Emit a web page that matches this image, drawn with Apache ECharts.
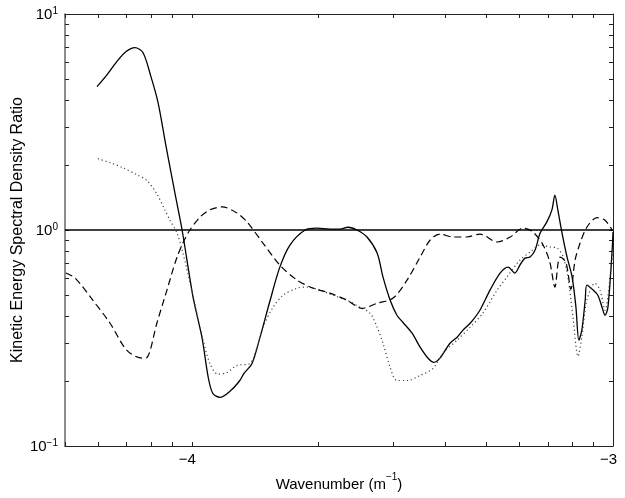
<!DOCTYPE html>
<html>
<head>
<meta charset="utf-8">
<script src="https://cdn.jsdelivr.net/npm/echarts@6/dist/echarts.min.js"></script>
<style>html,body{margin:0;padding:0;background:#fff;}#c{width:625px;height:498px;}</style>
</head>
<body>
<div id="c"></div>
<script>
// x values are log10(wavenumber); y values are the spectral density ratio
const xMin = -4.30103, xMax = -3;
const xLabelValues = [-4, -3];
const yLabelExponents = [-1, 0, 1];
const unityLine = [[-4.30103, 1], [-3, 1]];

const solidCurve = [
  [-4.225,4.61],[-4.201,5.24],[-4.178,6.02],[-4.156,6.70],[-4.135,6.99],[-4.116,6.63],[-4.097,5.13],
  [-4.080,3.88],[-4.061,2.43],[-4.040,1.48],[-4.023,1.00],[-3.997,0.489],[-3.976,0.319],[-3.961,0.208],
  [-3.950,0.175],[-3.933,0.168],[-3.907,0.181],[-3.886,0.201],[-3.876,0.217],[-3.857,0.241],[-3.838,0.319],
  [-3.814,0.473],[-3.791,0.673],[-3.767,0.852],[-3.731,1.00],[-3.703,1.02],[-3.672,1.01],[-3.648,1.01],
  [-3.629,1.03],[-3.608,1.00],[-3.584,0.928],[-3.560,0.782],[-3.546,0.605],[-3.529,0.473],[-3.513,0.403],
  [-3.499,0.374],[-3.477,0.333],[-3.458,0.287],[-3.439,0.255],[-3.425,0.244],[-3.411,0.255],[-3.387,0.299],
  [-3.370,0.319],[-3.356,0.344],[-3.339,0.370],[-3.316,0.425],[-3.292,0.527],[-3.268,0.632],[-3.249,0.673],
  [-3.233,0.632],[-3.221,0.688],[-3.209,0.741],[-3.197,0.749],[-3.185,0.808],[-3.173,0.968],[-3.157,1.09],
  [-3.145,1.24],[-3.138,1.45],[-3.131,1.24],[-3.121,0.968],[-3.109,0.749],[-3.097,0.605],[-3.088,0.439],
  [-3.081,0.309],[-3.074,0.344],[-3.066,0.473],[-3.062,0.556],[-3.047,0.527],[-3.036,0.499],[-3.026,0.439],
  [-3.019,0.403],[-3.012,0.439],[-3.002,0.808],[-3.000,0.979]
];

const dottedCurve = [
  [-4.223,2.14],[-4.194,2.05],[-4.163,1.94],[-4.130,1.80],[-4.106,1.69],[-4.083,1.47],[-4.064,1.24],
  [-4.052,1.11],[-4.035,0.968],[-4.021,0.782],[-4.004,0.567],[-3.988,0.412],[-3.973,0.309],[-3.957,0.241],
  [-3.938,0.215],[-3.916,0.219],[-3.893,0.236],[-3.862,0.241],[-3.845,0.287],[-3.831,0.355],[-3.807,0.439],
  [-3.783,0.499],[-3.750,0.538],[-3.726,0.544],[-3.696,0.527],[-3.665,0.499],[-3.631,0.473],[-3.601,0.439],
  [-3.577,0.412],[-3.560,0.355],[-3.546,0.299],[-3.529,0.231],[-3.513,0.201],[-3.489,0.201],[-3.458,0.212],
  [-3.427,0.229],[-3.404,0.269],[-3.370,0.309],[-3.339,0.355],[-3.309,0.412],[-3.275,0.527],[-3.252,0.605],
  [-3.221,0.726],[-3.197,0.790],[-3.173,0.852],[-3.150,0.834],[-3.133,0.825],[-3.119,0.758],[-3.107,0.605],
  [-3.095,0.395],[-3.083,0.260],[-3.074,0.319],[-3.062,0.473],[-3.043,0.567],[-3.031,0.527],[-3.019,0.425],
  [-3.007,0.605],[-3.000,0.808]
];

const dashedCurve = [
  [-4.299,0.632],[-4.277,0.599],[-4.235,0.473],[-4.194,0.370],[-4.154,0.277],[-4.118,0.255],[-4.106,0.257],
  [-4.083,0.370],[-4.059,0.527],[-4.035,0.749],[-4.009,0.968],[-3.980,1.15],[-3.957,1.24],[-3.928,1.28],
  [-3.893,1.20],[-3.869,1.09],[-3.831,0.870],[-3.791,0.688],[-3.750,0.586],[-3.712,0.538],[-3.672,0.510],
  [-3.631,0.473],[-3.596,0.434],[-3.560,0.458],[-3.522,0.484],[-3.489,0.586],[-3.458,0.749],[-3.434,0.899],
  [-3.411,0.958],[-3.380,0.928],[-3.347,0.928],[-3.316,0.958],[-3.275,0.880],[-3.244,0.928],[-3.214,1.02],
  [-3.190,0.979],[-3.166,0.852],[-3.150,0.710],[-3.138,0.544],[-3.126,0.749],[-3.112,0.710],[-3.100,0.532],
  [-3.090,0.726],[-3.078,0.870],[-3.062,1.03],[-3.038,1.14],[-3.019,1.11],[-3.002,1.00]
];

// tick positions (log10 of 1..9 multiples)
const xTicks = [];
[1e-5, 1e-4].forEach(d => { for (let k = 1; k <= 9; k++) { const v = Math.log10(k * d); if (v >= xMin - 1e-9) xTicks.push(v); } });
xTicks.push(-3);
const yTicks = [];
[0.1, 1].forEach(d => { for (let k = 1; k <= 9; k++) yTicks.push(Math.log10(k * d)); });
yTicks.push(1);

const FONT = 'Liberation Sans, Arial, Helvetica, sans-serif';
const frame = { show: true, onZero: false, lineStyle: { color: '#222', width: 1 } };
const tick = (vals) => ({ show: true, inside: true, length: 4, customValues: vals, lineStyle: { color: '#222', width: 1 } });

const chart = echarts.init(document.getElementById('c'), null, { renderer: 'canvas' });
chart.setOption({
  animation: false,
  backgroundColor: '#fff',
  grid: { left: 65, right: 12, top: 14, bottom: 52, containLabel: false, outerBoundsMode: 'none' },
  xAxis: [
    {
      type: 'value', min: xMin, max: xMax, position: 'bottom',
      axisLine: frame, axisTick: tick(xTicks), splitLine: { show: false },
      axisLabel: {
        customValues: xLabelValues, margin: 6, fontSize: 15, color: '#000', fontFamily: FONT,
        padding: [0, 9, 0, 0],
        formatter: v => (v < 0 ? '\u2212' + Math.abs(v) : String(v))
      },
      name: '{a|Wavenumber (m}{s|\u22121}{a|)}', nameLocation: 'middle', nameGap: 24,
      nameTextStyle: {
        rich: {
          a: { fontSize: 15, fontFamily: FONT, color: '#000', lineHeight: 20, verticalAlign: 'bottom' },
          s: { fontSize: 10, fontFamily: FONT, color: '#000', lineHeight: 12, verticalAlign: 'top' }
        }
      }
    },
    {
      type: 'value', min: xMin, max: xMax, position: 'top',
      axisLine: frame, axisTick: tick(xTicks), axisLabel: { show: false }, splitLine: { show: false }
    }
  ],
  yAxis: [
    { type: 'log', logBase: 10, min: 0.1, max: 10, show: false, splitLine: { show: false } },
    {
      type: 'value', min: -1, max: 1, position: 'left',
      axisLine: { show: true, onZero: false, lineStyle: { color: '#666', width: 1.5 } },
      axisTick: tick(yTicks), splitLine: { show: false },
      axisLabel: {
        customValues: yLabelExponents, margin: 7, color: '#000',
        formatter: v => '{b|10}{s|' + (v < 0 ? '\u2212' + Math.abs(v) : v) + '}',
        rich: {
          b: { fontSize: 15, fontFamily: FONT, color: '#000', lineHeight: 16, verticalAlign: 'bottom' },
          s: { fontSize: 10, fontFamily: FONT, color: '#000', lineHeight: 10, verticalAlign: 'top' }
        }
      },
      name: 'Kinetic Energy Spectral Density Ratio', nameLocation: 'middle', nameGap: 39,
      nameMoveOverlap: false,
      nameTextStyle: { fontSize: 16, fontFamily: FONT, color: '#000' }
    },
    {
      type: 'value', min: -1, max: 1, position: 'right',
      axisLine: frame, axisTick: tick(yTicks), axisLabel: { show: false }, splitLine: { show: false }
    }
  ],
  series: [
    { type: 'line', name: 'unity', data: unityLine, yAxisIndex: 0, symbol: 'none',
      lineStyle: { color: '#000', width: 1.3 }, z: 3 },
    { type: 'line', name: 'solid', data: solidCurve, yAxisIndex: 0, symbol: 'none', smooth: 0.3,
      lineStyle: { color: '#000', width: 1.3 } },
    { type: 'line', name: 'dotted', data: dottedCurve, yAxisIndex: 0, symbol: 'none', smooth: 0.3,
      lineStyle: { color: '#444', width: 1.2, type: [1.2, 2.8] } },
    { type: 'line', name: 'dashed', data: dashedCurve, yAxisIndex: 0, symbol: 'none', smooth: 0.3,
      lineStyle: { color: '#000', width: 1.2, type: [7, 4] } }
  ]
});
</script>
</body>
</html>
